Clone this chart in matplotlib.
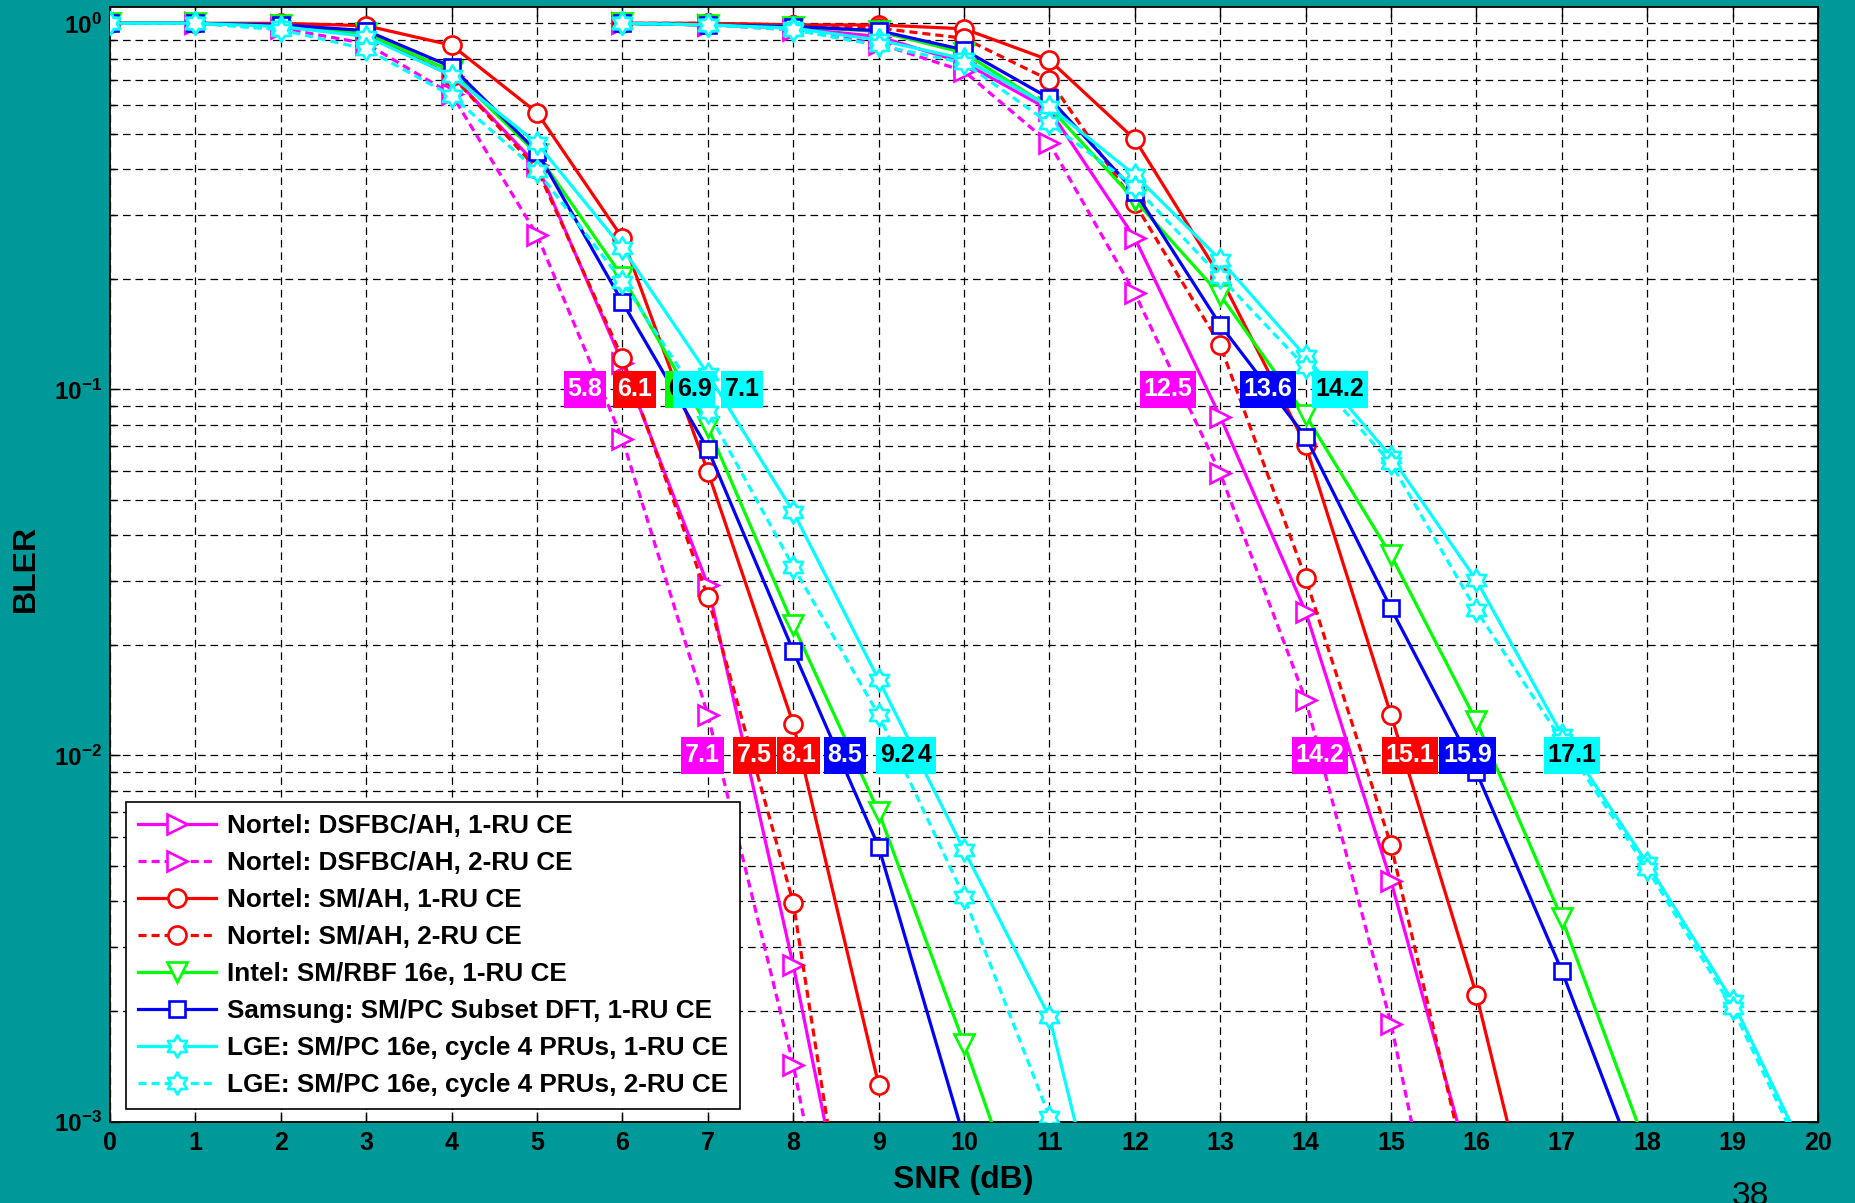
import numpy as np
import matplotlib
matplotlib.use('Agg')
import matplotlib.pyplot as plt
from matplotlib.path import Path
from matplotlib.ticker import FixedLocator, FixedFormatter, LogLocator, NullFormatter

plt.rcParams['font.family'] = ['Liberation Sans', 'DejaVu Sans']
plt.rcParams['mathtext.fontset'] = 'custom'
plt.rcParams['mathtext.rm'] = 'Liberation Sans:bold'
plt.rcParams['mathtext.bf'] = 'Liberation Sans:bold'
plt.rcParams['mathtext.it'] = 'Liberation Sans:bold'
plt.rcParams['lines.scale_dashes'] = False

# ---------------- data ----------------
snr_lo_start = 0   # first SNR of the left (lower SNR) curve group
snr_hi_start = 6   # first SNR of the right (higher SNR) curve group

labels = [
    "Nortel: DSFBC/AH, 1-RU CE",
    "Nortel: DSFBC/AH, 2-RU CE",
    "Nortel: SM/AH, 1-RU CE",
    "Nortel: SM/AH, 2-RU CE",
    "Intel: SM/RBF 16e, 1-RU CE",
    "Samsung: SM/PC Subset DFT, 1-RU CE",
    "LGE: SM/PC 16e, cycle 4 PRUs, 1-RU CE",
    "LGE: SM/PC 16e, cycle 4 PRUs, 2-RU CE",
]

# left group, SNR = 0, 1, 2, ...
dsfbc1_lo = [1.0, 1.0, 0.99, 0.93, 0.72, 0.41, 0.118, 0.0292, 0.00267, 0.000187]
dsfbc2_lo = [1.0, 1.0, 0.97, 0.88, 0.64, 0.264, 0.073, 0.0129, 0.00143, 0.000093]
sm1_lo = [1.0, 1.0, 1.0, 0.985, 0.871, 0.57, 0.259, 0.0596, 0.0122, 0.00126]
sm2_lo = [1.0, 1.0, 0.99, 0.93, 0.72, 0.40, 0.1216, 0.0271, 0.00396, 0.000126]
intel_lo = [1.0, 1.0, 0.99, 0.94, 0.74, 0.44, 0.203, 0.079, 0.0227, 0.00701, 0.00163, 0.000352]
samsung_lo = [1.0, 1.0, 0.99, 0.955, 0.76, 0.446, 0.173, 0.0687, 0.0193, 0.00563, 0.0009]
lge1_lo = [1.0, 1.0, 0.98, 0.92, 0.72, 0.47, 0.243, 0.11, 0.0463, 0.0161, 0.00551, 0.00193, 0.000215]
lge2_lo = [1.0, 1.0, 0.96, 0.85, 0.634, 0.396, 0.197, 0.087, 0.0328, 0.0129, 0.00411, 0.00103]

# right group, SNR = 6, 7, 8, ...
dsfbc1_hi = [1.0, 0.99, 0.97, 0.92, 0.78, 0.58, 0.259, 0.0842, 0.0247, 0.00453, 0.000645]
dsfbc2_hi = [1.0, 0.99, 0.96, 0.88, 0.74, 0.47, 0.183, 0.059, 0.0142, 0.00185, 0.000141]
sm1_hi = [1.0, 1.0, 0.99, 0.99, 0.966, 0.793, 0.482, 0.203, 0.0705, 0.0129, 0.00222, 0.000245]
sm2_hi = [1.0, 1.0, 0.99, 0.97, 0.91, 0.70, 0.322, 0.132, 0.0305, 0.00569, 0.00056]
intel_hi = [1.0, 0.99, 0.98, 0.95, 0.83, 0.59, 0.329, 0.181, 0.085, 0.0352, 0.0124, 0.00359, 0.00084]
samsung_hi = [1.0, 0.99, 0.98, 0.955, 0.846, 0.624, 0.347, 0.15, 0.0742, 0.0252, 0.0090, 0.00258, 0.00063]
lge1_hi = [1.0, 0.99, 0.97, 0.90, 0.80, 0.592, 0.385, 0.226, 0.123, 0.0655, 0.0301, 0.0114, 0.00507, 0.00213, 0.00069]
lge2_hi = [1.0, 0.99, 0.96, 0.87, 0.78, 0.533, 0.358, 0.203, 0.115, 0.0628, 0.0249, 0.011, 0.0049, 0.00204, 0.00066]

# required-SNR annotations: (text, x, y)
ann_text = ["5.8", "6.1", "6.9", "6.9", "7.1",
            "7.1", "7.5", "8.1", "8.5", "9.4", "9.2",
            "12.5", "13.6", "14.2",
            "14.2", "15.1", "15.9", "17.1"]
ann_x = [5.56, 6.14, 6.74, 6.84, 7.40,
         6.935, 7.545, 8.06, 8.605, 9.425, 9.215,
         12.385, 13.555, 14.405,
         14.17, 15.225, 15.895, 17.12]
ann_y = [0.1, 0.1, 0.1, 0.1, 0.1,
         0.01, 0.01, 0.01, 0.01, 0.01, 0.01,
         0.1, 0.1, 0.1,
         0.01, 0.01, 0.01, 0.01]
ann_series = [0, 2, 4, 6, 6,
              0, 2, 2, 5, 6, 6,
              0, 5, 6,
              0, 2, 5, 6]

xticks = list(range(0, 21))
yticks = [1e-3, 1e-2, 1e-1, 1e0]
ytick_labels = [r'$10^{-3}$', r'$10^{-2}$', r'$10^{-1}$', r'$10^{0}$']

# ---------------- styles ----------------
MAG, RED, GRN, BLU, CYN = '#FF00FF', '#FF0000', '#00FF00', '#0000FF', '#00FFFF'
TEAL = '#009999'
hexagram = Path.unit_regular_star(6, 0.577)
DASH = (0, (5.8, 3.6))

styles = [
    dict(color=MAG, ls='-', marker='>', ms=14),
    dict(color=MAG, ls=DASH, marker='>', ms=14),
    dict(color=RED, ls='-', marker='o', ms=13),
    dict(color=RED, ls=DASH, marker='o', ms=13),
    dict(color=GRN, ls='-', marker='v', ms=14),
    dict(color=BLU, ls='-', marker='s', ms=12),
    dict(color=CYN, ls='-', marker=hexagram, ms=16),
    dict(color=CYN, ls=DASH, marker=hexagram, ms=16),
]
lo_data = [dsfbc1_lo, dsfbc2_lo, sm1_lo, sm2_lo, intel_lo, samsung_lo, lge1_lo, lge2_lo]
hi_data = [dsfbc1_hi, dsfbc2_hi, sm1_hi, sm2_hi, intel_hi, samsung_hi, lge1_hi, lge2_hi]
ann_face = [MAG, MAG, RED, RED, GRN, BLU, CYN, CYN]
ann_textc = ['white', 'white', 'white', 'white', 'black', 'white', 'black', 'black']


def tall_box(x0, y0, width, height, mutation_size):
    padx = 0.15 * mutation_size
    pady = 0.26 * mutation_size
    x0, y0 = x0 - padx, y0 - pady
    x1, y1 = x0 + width + 2 * padx, y0 + height + 2 * pady
    return Path([(x0, y0), (x1, y0), (x1, y1), (x0, y1), (x0, y0)], closed=True)


# ---------------- figure ----------------
W, H = 1856, 1203
fig = plt.figure(figsize=(W / 100, H / 100), dpi=100, facecolor=TEAL)
ax = fig.add_axes([110.1 / W, 1 - 1121.5 / H, (1818 - 110.1) / W, (1121.5 - 6.7) / H])
ax.set_facecolor('white')
ax.set_yscale('log')

for i, st in enumerate(styles):
    for data, start in ((lo_data[i], snr_lo_start), (hi_data[i], snr_hi_start)):
        x = np.arange(start, start + len(data))
        ax.plot(x, data, color=st['color'], linestyle=st['ls'], lw=2.3,
                marker=st['marker'], ms=st['ms'], mec=st['color'], mfc='white',
                mew=1.9, label=labels[i] if start == snr_lo_start else None,
                clip_on=True, zorder=3 + i * 0.1)

ax.set_xlim(0, 20)
ax.set_ylim(1e-3, 10 ** 0.04536)
ax.xaxis.set_major_locator(FixedLocator(xticks))
ax.yaxis.set_major_locator(FixedLocator(yticks))
ax.yaxis.set_major_formatter(FixedFormatter(ytick_labels))
ax.yaxis.set_minor_locator(LogLocator(base=10, subs=np.arange(2, 10), numticks=20))
ax.yaxis.set_minor_formatter(NullFormatter())

grid_kw = dict(color='black', lw=0.9, linestyle=(0, (5.5, 3.5)), zorder=1)
ax.grid(True, which='major', axis='x', **grid_kw)
ax.grid(True, which='both', axis='y', **grid_kw)
ax.set_axisbelow(True)

ax.tick_params(which='both', direction='in', top=True, right=True, width=1.0, color='black')
ax.tick_params(which='major', length=7)
ax.tick_params(which='minor', length=4)
ax.tick_params(axis='x', which='major', labelsize=18, pad=7)
ax.tick_params(axis='y', which='major', labelsize=17.5, pad=6)
for lab in ax.get_xticklabels():
    lab.set_fontweight('bold')
for sp in ax.spines.values():
    sp.set_linewidth(1.3)
    sp.set_color('black')

# annotations
for t, xv, yv, s in zip(ann_text, ann_x, ann_y, ann_series):
    ax.text(xv, yv, t, ha='center', va='center', fontsize=18, fontweight='bold',
            color=ann_textc[s], zorder=10,
            bbox=dict(boxstyle=tall_box, fc=ann_face[s], ec='none'))

leg = ax.legend(loc='lower left', bbox_to_anchor=(0.0095, 0.0114), borderaxespad=0,
                prop={'weight': 'bold', 'size': 18.8}, frameon=True, fancybox=False,
                edgecolor='black', framealpha=1, handlelength=3.0, handletextpad=0.41,
                labelspacing=0.5, borderpad=0.45, numpoints=1)
leg.get_frame().set_linewidth(1.2)
leg.set_zorder(20)

fig.text(26 / W, 1 - 568 / H, 'BLER', rotation=90, ha='center', va='center',
         fontsize=23, fontweight='bold', color='black')
fig.text(963 / W, 1 - 1180 / H, 'SNR (dB)', ha='center', va='center',
         fontsize=23, fontweight='bold', color='black')
fig.text(1750 / W, 1 - 1181 / H, '38', ha='center', va='top', fontsize=24, color='black')

fig.savefig('out.png', dpi=100, facecolor=TEAL)
